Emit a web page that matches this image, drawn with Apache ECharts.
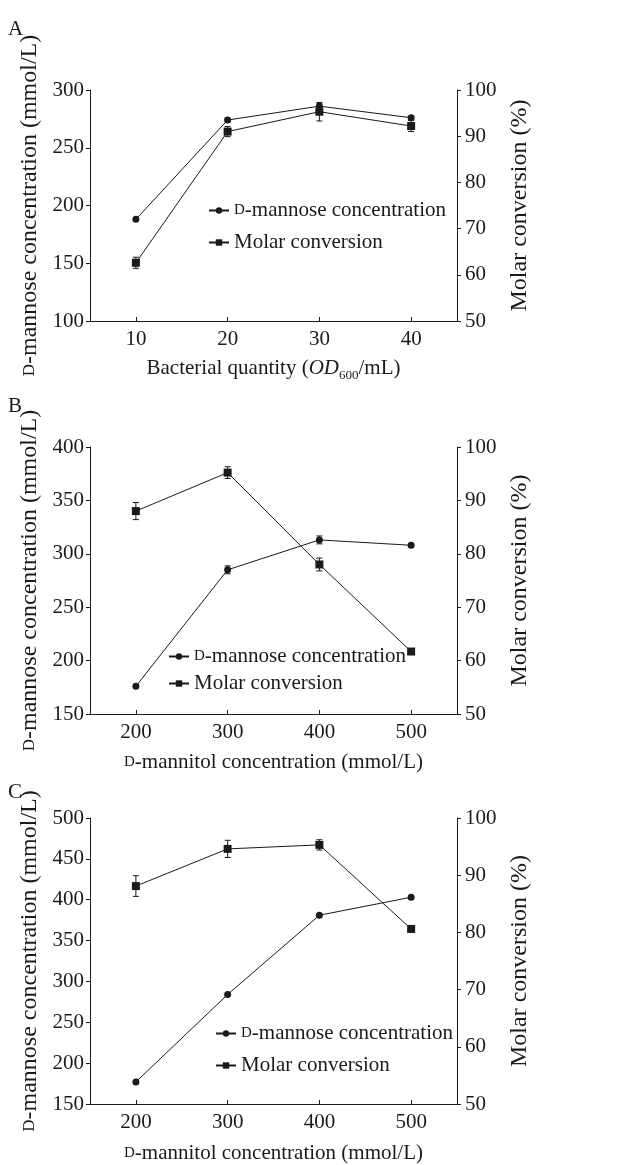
<!DOCTYPE html>
<html>
<head>
<meta charset="utf-8">
<script src="https://cdn.jsdelivr.net/npm/echarts@6/dist/echarts.min.js"></script>
<style>
  html, body { margin:0; padding:0; background:#fff; }
  #chart { width:620px; height:1165px; }
</style>
</head>
<body>
<div id="chart"></div>
<script>
// panel A: bacterial quantity
const xA = ['10', '20', '30', '40'];
const mannoseA = [188, 274, 286, 276];
const mannoseErrA = [0, 1.5, 2, 1.2];
const molarA = [62.6, 91.0, 95.3, 92.2];
const molarErrA = [1.2, 1.1, 2.0, 1.2];
// panel B: mannitol concentration
const xB = ['200', '300', '400', '500'];
const mannoseB = [176, 285, 313, 308];
const mannoseErrB = [0, 3.7, 3.7, 1.5];
const molarB = [88.0, 95.2, 78.0, 61.7];
const molarErrB = [1.6, 1.1, 1.2, 0.4];
// panel C: mannitol concentration
const xC = ['200', '300', '400', '500'];
const mannoseC = [177, 284, 381, 403];
const mannoseErrC = [0, 0, 0, 0];
const molarC = [88.1, 94.6, 95.3, 80.6];
const molarErrC = [1.8, 1.5, 0.9, 0.3];

const FONT = '"Liberation Serif", "Times New Roman", serif';
const INK = '#1a1a1a';
const MANNOSE = 'D-mannose concentration';
const MOLAR = 'Molar conversion';

const rich = {
    sc: { fontFamily: FONT, fontSize: 15, color: INK },
    it: { fontFamily: FONT, fontSize: 21, fontStyle: 'italic', color: INK },
    sub: { fontFamily: FONT, fontSize: 13, color: INK, padding: [14, 0, 0, 0] }
};
const textStyle = { fontFamily: FONT, fontSize: 21, color: INK, rich: rich };
// the y titles are drawn taller in the figure
const yRich = {
    sc: { fontFamily: FONT, fontSize: 17, color: INK }
};
const yNameStyle = { fontFamily: FONT, fontSize: 24, color: INK, rich: yRich };

const panels = [
    { label: 'A', top: 90, height: 231, x: xA, mannose: mannoseA, mannoseErr: mannoseErrA, molar: molarA, molarErr: molarErrA,
      yMin: 100, yMax: 300, xName: 'Bacterial quantity ({it|OD}{sub|600}/mL)', xGap: 34,
      legendLeft: 208, legendTop: 200, legendGap: 11, labelTop: 14 },
    { label: 'B', top: 447, height: 267, x: xB, mannose: mannoseB, mannoseErr: mannoseErrB, molar: molarB, molarErr: molarErrB,
      yMin: 150, yMax: 400, xName: '{sc|D}-mannitol concentration (mmol/L)', xGap: 38,
      legendLeft: 168, legendTop: 646, legendGap: 6, labelTop: 391 },
    { label: 'C', top: 818, height: 288, x: xC, mannose: mannoseC, mannoseErr: mannoseErrC, molar: molarC, molarErr: molarErrC,
      yMin: 150, yMax: 500, xName: '{sc|D}-mannitol concentration (mmol/L)', xGap: 39,
      legendLeft: 215, legendTop: 1023, legendGap: 11, labelTop: 777 }
];

function errorBar(params, api){
    if ( api.value(2) <= 0 ) return null;
    const hi = api.coord([api.value(0), api.value(1) + api.value(2)]);
    const lo = api.coord([api.value(0), api.value(1) - api.value(2)]);
    const w = 3;
    const style = { stroke: INK, lineWidth: 1 };
    return {
        type: 'group',
        children: [
            { type: 'line', shape: { x1: hi[0], y1: hi[1], x2: lo[0], y2: lo[1] }, style: style },
            { type: 'line', shape: { x1: hi[0] - w, y1: hi[1], x2: hi[0] + w, y2: hi[1] }, style: style },
            { type: 'line', shape: { x1: lo[0] - w, y1: lo[1], x2: lo[0] + w, y2: lo[1] }, style: style }
        ]
    };
}

let grid = [], xAxis = [], yAxis = [], series = [], legend = [], title = [];
panels.forEach((p, i)=>{
    grid.push({ left: 90, right: 163, top: p.top, height: p.height });
    title.push({ text: p.label, left: 3, top: p.labelTop, textStyle: { fontFamily: FONT, fontSize: 21, fontWeight: 'normal', color: INK } });
    xAxis.push({
        type: 'category',
        gridIndex: i,
        data: p.x,
        boundaryGap: true,
        name: p.xName,
        nameLocation: 'middle',
        nameGap: p.xGap,
        nameTextStyle: textStyle,
        axisLine: { lineStyle: { color: INK, width: 1 } },
        axisTick: { show: true, inside: true, length: 4, alignWithLabel: true, lineStyle: { color: INK } },
        axisLabel: { fontFamily: FONT, fontSize: 21, color: INK, margin: 8 },
        splitLine: { show: false }
    });
    yAxis.push({
        type: 'value',
        gridIndex: i,
        position: 'left',
        min: p.yMin,
        max: p.yMax,
        interval: 50,
        name: '{sc|D}-mannose concentration (mmol/L)',
        nameLocation: 'middle',
        nameRotate: 90,
        nameGap: 41,
        nameTextStyle: yNameStyle,
        axisLine: { show: true, lineStyle: { color: INK, width: 1 } },
        axisTick: { show: true, length: 4, lineStyle: { color: INK } },
        axisLabel: { fontFamily: FONT, fontSize: 21, color: INK, margin: 6 },
        splitLine: { show: false }
    });
    yAxis.push({
        type: 'value',
        gridIndex: i,
        position: 'right',
        min: 50,
        max: 100,
        interval: 10,
        name: 'Molar conversion (%)',
        nameLocation: 'middle',
        nameRotate: 90,
        nameGap: 45,
        nameTextStyle: yNameStyle,
        axisLine: { show: true, lineStyle: { color: INK, width: 1 } },
        axisTick: { show: true, length: 4, lineStyle: { color: INK } },
        axisLabel: { fontFamily: FONT, fontSize: 21, color: INK, margin: 8 },
        splitLine: { show: false }
    });
    series.push({
        type: 'line', name: MANNOSE, xAxisIndex: i, yAxisIndex: i * 2,
        data: p.mannose, symbol: 'circle', symbolSize: 7,
        lineStyle: { color: INK, width: 1 }, itemStyle: { color: INK }, z: 3
    });
    series.push({
        type: 'line', name: MOLAR, xAxisIndex: i, yAxisIndex: i * 2 + 1,
        data: p.molar, symbol: 'rect', symbolSize: 8,
        lineStyle: { color: INK, width: 1 }, itemStyle: { color: INK }, z: 3
    });
    series.push({
        type: 'custom', xAxisIndex: i, yAxisIndex: i * 2, renderItem: errorBar,
        data: p.mannose.map((v, k)=>[k, v, p.mannoseErr[k]]), z: 2, silent: true
    });
    series.push({
        type: 'custom', xAxisIndex: i, yAxisIndex: i * 2 + 1, renderItem: errorBar,
        data: p.molar.map((v, k)=>[k, v, p.molarErr[k]]), z: 2, silent: true
    });
    legend.push({
        orient: 'vertical',
        left: p.legendLeft,
        top: p.legendTop,
        padding: 0,
        itemWidth: 20,
        itemHeight: 8,
        itemGap: p.legendGap,
        data: [MANNOSE, MOLAR],
        formatter: name => name === MANNOSE ? '{sc|D}-mannose concentration' : name,
        textStyle: { fontFamily: FONT, fontSize: 21, color: INK, lineHeight: 21, rich: rich },
        selectedMode: false
    });
});

const myChart = echarts.init(document.getElementById('chart'), null, { renderer: 'canvas' });
myChart.setOption({
    animation: false,
    backgroundColor: '#fff',
    title: title,
    grid: grid,
    xAxis: xAxis,
    yAxis: yAxis,
    legend: legend,
    series: series
});
</script>
</body>
</html>
